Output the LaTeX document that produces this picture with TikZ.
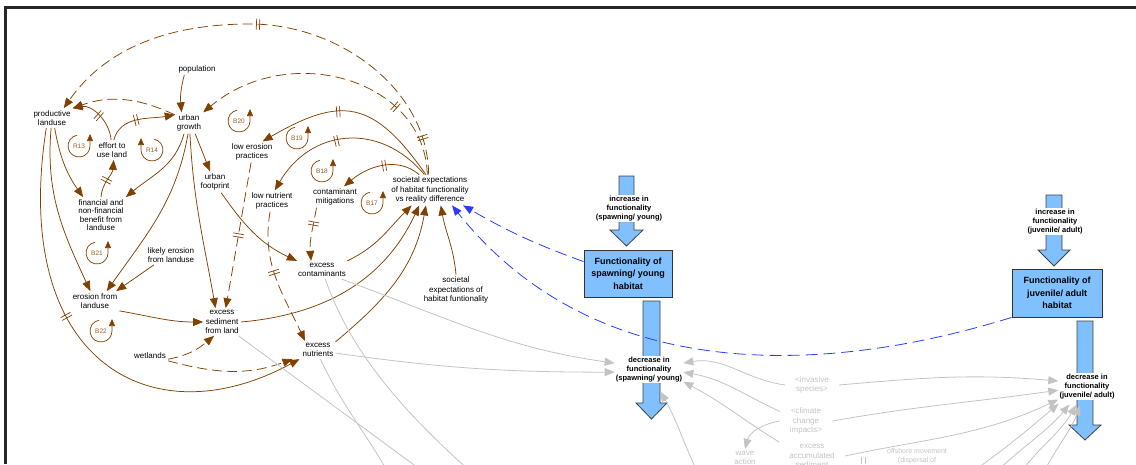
\documentclass[tikz,border=0pt]{standalone}
\usepackage{fontspec}
\setsansfont{Liberation Sans}
\usetikzlibrary{positioning, arrows.meta, calc, decorations.markings}
\definecolor{cldbrown}{RGB}{128,64,0}
\definecolor{stockblue}{RGB}{128,192,255}
\definecolor{feedblue}{RGB}{40,60,255}
\definecolor{shadowgray}{RGB}{195,195,195}

\begin{document}
\begin{tikzpicture}[
        x=1pt, y=1pt,
        font=\sffamily,
        % Styles
        cldvar/.style={align=center, inner sep=2pt, font=\sffamily\fontsize{8}{9.5}\selectfont},
        ghostvar/.style={cldvar, text=shadowgray, inner xsep=10pt},
        stockbox/.style={draw=black!80, fill=stockblue, line width=0.9pt, align=center, minimum width=88pt, minimum height=47pt, inner sep=1pt, font=\sffamily\bfseries\fontsize{9}{12.5}\selectfont},
        flowlabel/.style={fill=white, align=center, inner sep=1pt, font=\sffamily\bfseries\fontsize{7.5}{9}\selectfont},
        flowpipe/.style={draw=black!75, fill=stockblue, line width=0.8pt, line join=miter},
        cause/.style={draw=cldbrown, line width=0.75pt, -{Triangle[length=10pt,width=8pt]}},
        dcause/.style={cause, dash pattern=on 10pt off 5pt},
        delaymark/.style={postaction={decorate, decoration={markings, mark=at position #1 with {\draw[cldbrown, solid, line width=0.7pt, -] (-1.6pt,-5.5pt) -- (-1.6pt,5.5pt) (1.6pt,-5.5pt) -- (1.6pt,5.5pt);}}}},
        feedback/.style={draw=feedblue, line width=0.8pt, dash pattern=on 12pt off 6pt, -{Triangle[length=10pt,width=8pt]}},
        graycause/.style={draw=shadowgray, line width=0.8pt, -{Triangle[length=10pt,width=8pt]}},
        grayline/.style={draw=shadowgray, line width=0.8pt},
        loopsign/.style={inner sep=0pt, text=cldbrown!85, font=\sffamily\fontsize{6.5}{6.5}\selectfont},
        looparc/.style={draw=cldbrown, line width=0.7pt, -{Triangle[length=7pt,width=6pt]}}
    ]

    \clip (0,0) rectangle (1136,-464);
    \draw[line width=3pt, black!85] (5.5,-464) -- (5.5,-7.5) -- (1136,-7.5);

    % Land use and urban side
    \node[cldvar] (prodland) at (52,-118) {productive\\landuse};
    \node[cldvar] (population) at (197,-69) {population};
    \node[cldvar] (urbgrowth) at (189,-123) {urban\\growth};
    \node[cldvar] (effort) at (112,-150) {effort to\\use land};
    \node[cldvar, font=\sffamily\fontsize{8}{8.5}\selectfont] (finbenefit) at (101,-215) {financial and\\non-financial\\benefit from\\landuse};
    \node[cldvar] (likelyero) at (171,-255) {likely erosion\\from landuse};
    \node[cldvar] (erosion) at (95,-301) {erosion from\\landuse};
    \node[cldvar] (wetlands) at (150,-356) {wetlands};
    \node[cldvar] (sediment) at (222,-322) {excess\\sediment\\from land};
    \node[cldvar] (footprint) at (215,-182) {urban\\footprint};

    % Practices and expectations
    \node[cldvar] (lowero) at (252,-152) {low erosion\\practices};
    \node[cldvar] (lownutr) at (272,-201) {low nutrient\\practices};
    \node[cldvar] (contmit) at (335,-197) {contaminant\\mitigations};
    \node[cldvar] (socdiff) at (430,-190) {societal expectations\\of habitat functionality\\vs reality difference};
    \node[cldvar] (contam) at (322,-270) {excess\\contaminants};
    \node[cldvar] (nutr) at (318,-350) {excess\\nutrients};
    \node[cldvar] (socexp) at (456,-290) {societal\\expectations of\\habitat funtionality};

    % Loop markers
    \foreach \lname/\lx/\ly in {R13/79/-146, B20/239/-121, B19/297/-138, B18/322/-171, B17/372/-203, B21/97/-253, B22/101/-331} {
        \node[loopsign] (\lname) at (\lx,\ly) {\lname};
        \draw[looparc] ([shift={(100:11pt)}]\lname.center) arc[start angle=100, end angle=360, radius=11pt] -- ++(0,12pt);
    }
    \node[loopsign] (R14) at (152,-150) {R14};
    \draw[looparc] ([shift={(80:11pt)}]R14.center) arc[start angle=80, end angle=-180, radius=11pt] -- ++(0,12pt);

    % Stocks and flows
    \draw[flowpipe] (619,-176) -- (634,-176) -- (634,-230) -- (643,-230) -- (626.5,-246) -- (610,-230) -- (619,-230) -- cycle;
    \draw[flowpipe] (643,-301) -- (660,-301) -- (660,-403) -- (667,-403) -- (651.5,-419) -- (636,-403) -- (643,-403) -- cycle;
    \draw[flowpipe] (1046,-195) -- (1062,-195) -- (1062,-250) -- (1070,-250) -- (1054,-266) -- (1038,-250) -- (1046,-250) -- cycle;
    \draw[flowpipe] (1077,-321) -- (1093,-321) -- (1093,-425) -- (1101,-425) -- (1085,-440) -- (1069,-425) -- (1077,-425) -- cycle;

    \node[stockbox] (spawnbox) at (628,-273.5) {Functionality of\\spawning/ young\\habitat};
    \node[stockbox, minimum width=90pt, minimum height=48pt] (juvbox) at (1057,-293) {Functionality of\\juvenile/ adult\\habitat};
    \node[flowlabel, above=27pt of spawnbox, xshift=1pt] (incspawn) {increase in\\functionality\\(spawning/ young)};
    \node[flowlabel, below=58pt of spawnbox, xshift=21pt] (decspawn) {decrease in\\functionality\\(spawning/ young)};
    \node[flowlabel, above=33pt of juvbox, xshift=-2pt] (incjuv) {increase in\\functionality\\(juvenile/ adult)};
    \node[flowlabel, below=55pt of juvbox, xshift=30pt] (decjuv) {decrease in\\functionality\\(juvenile/ adult)};

    % Shadow variables
    \node[ghostvar] (invasive) at (812,-385) {<invasive\\species>};
    \node[ghostvar] (climate) at (806,-421) {<climate\\change\\impacts>};
    \node[ghostvar] (waveaction) at (745,-458) {wave\\action};
    \node[ghostvar] (accsed) at (812,-456) {excess\\accumulated\\sediment};
    \node[ghostvar, font=\sffamily\fontsize{7}{8.5}\selectfont] (offshore) at (917,-456) {offshore movement\\(dispersal of};
    \draw[shadowgray, line width=0.6pt] (861,-457) -- (861,-464) (865,-457) -- (865,-464);

    \coordinate (offspawn) at (700,-478);
    \coordinate (offcontam) at (480,-480);
    \coordinate (offsed) at (440,-484);
    \coordinate (offnutr) at (395,-485);
    \coordinate (offjuvA) at (972,-472);
    \coordinate (offjuvB) at (990,-478);
    \coordinate (offjuvC) at (1015,-480);
    \coordinate (offjuvD) at (1040,-480);

    % Brown causal links
    \draw[cause] (population.-155) to[out=-105,in=95] (urbgrowth.125);
    \draw[cause, delaymark=0.5] (effort.95) to[out=95,in=10] (prodland.north east);
    \draw[cause, delaymark=0.45] (effort.80) to[out=75,in=190] (urbgrowth.150);
    \draw[cause] (prodland.-75) to[out=-80,in=125] (finbenefit.135);
    \draw[cause] (urbgrowth.-115) to[out=-105,in=40] (finbenefit.north east);
    \draw[cause, delaymark=0.45] (finbenefit.north) to[out=85,in=-95] (effort.-80);
    \draw[cause] (urbgrowth.-60) -- (footprint.115);
    \draw[cause] (prodland.-95) to[out=-95,in=115] (erosion.115);
    \draw[cause] (urbgrowth.-95) to[out=-100,in=55] (erosion.40);
    \draw[cause] (likelyero.-150) -- (erosion.25);
    \draw[cause, delaymark=0.42] (prodland.-120) .. controls (10,-360) and (150,-440) .. ([xshift=-1pt]nutr.south west);
    \draw[cause] (erosion.south east) to[out=-10,in=180] (sediment.west);
    \draw[dcause] (wetlands.-10) to[out=10,in=-140] (sediment.-120);
    \draw[dcause] (wetlands.-15) to[out=-15,in=200] ([xshift=-8pt]nutr.south west);
    \draw[cause] (urbgrowth.-85) to[out=-87,in=100] (sediment.115);
    \draw[dcause, delaymark=0.5] (lowero.-95) to[out=-100,in=80] (sediment.75);
    \draw[cause] (footprint.-60) to[out=-55,in=155] (contam.160);
    \draw[dcause, delaymark=0.45] (lownutr.-100) to[out=-100,in=115] (nutr.145);
    \draw[dcause, delaymark=0.3] (contmit.-150) to[out=-100,in=95] (contam.140);

    % Responses to the expectation gap
    \draw[cause, delaymark=0.58] (socdiff.105) to[out=125,in=30,looseness=1.4] (lowero.45);
    \draw[cause, delaymark=0.55] (socdiff.110) to[out=130,in=60,looseness=1.2] (lownutr.75);
    \draw[cause, delaymark=0.45] (socdiff.125) to[out=140,in=40] (contmit.50);
    \draw[dcause, delaymark=0.27] (socdiff.100) .. controls (425,-80) and (290,-40) .. (urbgrowth.north east);
    \draw[dcause, delaymark=0.08, delaymark=0.53] (socdiff.95) .. controls (428,-90) and (340,-24) .. (250,-24) .. controls (180,-24) and (110,-42) .. (prodland.40);
    \draw[dcause] (urbgrowth.150) to[out=155,in=20] (prodland.25);

    % Into the expectation gap
    \draw[cause] (contam.20) to[out=25,in=-135] (socdiff.-140);
    \draw[cause] (sediment.east) to[out=5,in=-115] (socdiff.-125);
    \draw[cause] (nutr.25) to[out=40,in=-100] (socdiff.-105);
    \draw[cause] (socexp.north) to[out=95,in=-80] (socdiff.-55);

    % Habitat feedback
    \draw[feedback] (spawnbox.165) to[out=160,in=-30] (socdiff.-25);
    \draw[feedback] (juvbox.south west) .. controls (912,-348) and (625,-422) .. (socdiff.-35);

    % Gray links to the outflows
    \draw[graycause] (contam.-25) to[out=-20,in=172] (decspawn.170);
    \draw[graycause] (nutr.-10) to[out=-8,in=180] (decspawn.-175);
    \draw[graycause] (invasive.west) to[out=172,in=10] (decspawn.10);
    \draw[graycause] (climate.160) to[out=155,in=-10] (decspawn.-5);
    \draw[graycause] (accsed.north west) to[out=148,in=-28] (decspawn.-20);
    \draw[graycause] (climate.west) to[out=190,in=75] (waveaction.north);
    \draw[graycause, shorten >=10pt] (offspawn) to[out=115,in=-60] (decspawn.-65);
    \draw[grayline] (contam.-70) .. controls (350,-350) and (400,-410) .. (offcontam);
    \draw[grayline] (sediment.-40) -- (offsed);
    \draw[grayline] (nutr.-75) to[out=-65,in=118] (offnutr);

    \draw[graycause] (invasive.east) to[out=5,in=175] (decjuv.170);
    \draw[graycause] (climate.east) to[out=10,in=188] (decjuv.-172);
    \draw[graycause] (accsed.east) to[out=12,in=205] (decjuv.-155);
    \draw[graycause, shorten >=6pt] (offjuvA) to[out=35,in=-140] (decjuv.-150);
    \draw[graycause, shorten >=6pt] (offjuvB) to[out=45,in=-130] (decjuv.-135);
    \draw[graycause, shorten >=6pt] (offjuvC) to[out=55,in=-120] (decjuv.-120);
    \draw[graycause, shorten >=6pt] (offjuvD) to[out=65,in=-110] (decjuv.-110);

\end{tikzpicture}
\end{document}
